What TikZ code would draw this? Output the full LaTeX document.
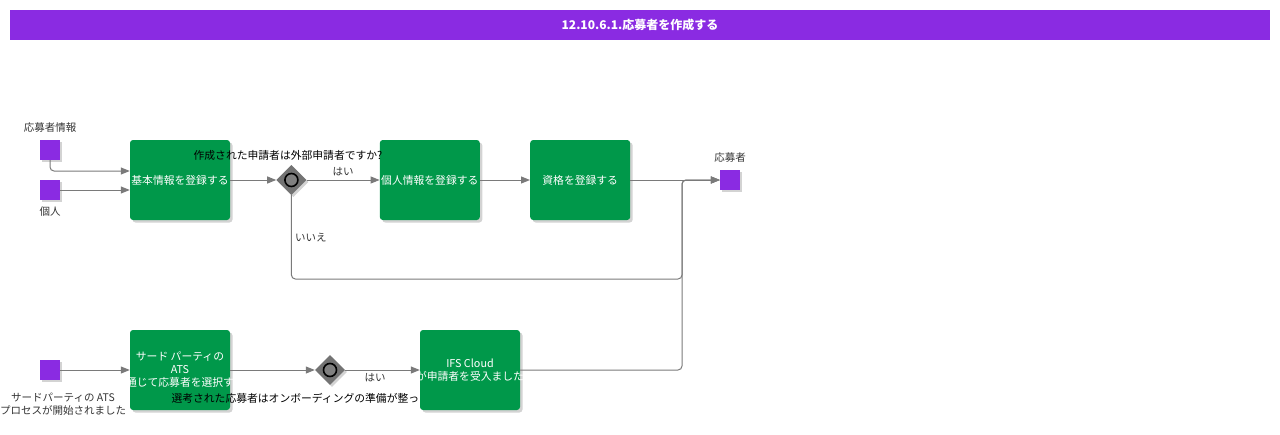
\documentclass[tikz,border=0pt]{standalone}
\usepackage{fontspec}
\setmainfont{Noto Sans CJK JP}
\usetikzlibrary{positioning, shapes.geometric, arrows.meta, shadows}

\definecolor{bpmnpurple}{HTML}{8A2BE2}
\definecolor{bpmngreen}{HTML}{00984A}
\definecolor{flowgray}{HTML}{7A7A7A}
\definecolor{labelgray}{HTML}{333333}

\tikzset{
  titlebar/.style={rectangle, fill=bpmnpurple, text=white,
    minimum width=1260pt, minimum height=30pt,
    font=\bfseries\fontsize{12}{14}\selectfont},
  task/.style={rectangle, rounded corners=3pt, fill=bpmngreen,
    minimum width=100pt, minimum height=80pt, inner sep=0pt,
    text=white, align=center,
    font=\fontsize{10.8}{13}\selectfont,
    drop shadow={shadow xshift=2.5pt, shadow yshift=-2.5pt, opacity=0.35}},
  event/.style={rectangle, fill=bpmnpurple, minimum size=20pt, inner sep=0pt,
    drop shadow={shadow xshift=2pt, shadow yshift=-2pt, opacity=0.35}},
  gate/.style={diamond, aspect=1, fill=gray!90!black, minimum size=30pt,
    inner sep=0pt,
    drop shadow={shadow xshift=2pt, shadow yshift=-2pt, opacity=0.35},
    path picture={\draw[line width=1.6pt, fill=gray]
      (path picture bounding box.center) circle[radius=6.5pt];}},
  evlabel/.style={font=\fontsize{10.5}{13}\selectfont, text=labelgray,
    inner sep=1pt},
  gatelabel/.style={font=\fontsize{10.8}{13}\selectfont, text=black},
  flowlabel/.style={font=\fontsize{10.5}{13}\selectfont, text=labelgray},
  flow/.style={draw=flowgray, line width=1pt, rounded corners=4pt,
    -{Triangle[length=9pt, width=7pt]}}
}

\begin{document}
\begin{tikzpicture}[x=1pt, y=-1pt]
  \useasboundingbox (0,0) rectangle (1280,434);
  \node[titlebar] (title) at (640,25) {12.10.6.1.応募者を作成する};

  % events
  \node[event] (info) at (50,150) {};
  \node[event] (person) at (50,190) {};
  \node[event] (atsstart) at (50,370) {};
  \node[event] (applicant) at (730,180) {};
  \node[evlabel, above=6pt of info] (infolbl) {応募者情報};
  \node[evlabel, below=5pt of person] (personlbl) {個人};
  \node[evlabel, above=6pt of applicant] (applicantlbl) {応募者};
  \node[evlabel, align=center] (atslbl) at (63,404)
    {サードパーティの ATS\\プロセスが開始されました};

  % tasks
  \node[task] (basic) at (180,180) {基本情報を登録する};
  \node[gate, right=46pt of basic] (extq) {};
  \node[task, right=73pt of extq] (personal) {個人情報を登録する};
  \node[task, right=50pt of personal] (qualif) {資格を登録する};
  \node[task] (select) at (180,370)
    {サード パーティの\\ATS\\\makebox[0pt]{通じて応募者を選択す}};
  \node[gate] (readyq) at (330,370) {};

  \node[gatelabel] (extqlbl) at (288,155) {作成された申請者は外部申請者ですか?};
  \node[gatelabel, anchor=west] (readylbl) at (168,398)
    {選考された応募者はオンボーディングの準備が整っ};

  \node[task] (ifs) at (470,370)
    {IFS Cloud\\\makebox[0pt]{が申請者を受入ました}};

  \coordinate (merge) at (682,180);
  \coordinate (loop) at (682,279);

  \draw[flow] (info.south) |- ([yshift=9pt]basic.west);
  \draw[flow] (person.east) -- (person.east -| basic.west);
  \draw[flow] (basic) -- (extq);
  \draw[flow] (extq) -- node[flowlabel, above] {はい} (personal);
  \draw[flow] (personal) -- (qualif);
  \draw[flow] (qualif) -- (applicant);
  \draw[flow] (extq.south) |- node[flowlabel, pos=0.25, right] {いいえ}
    (loop) -- (merge) -- (applicant);

  \draw[flow] (atsstart) -- (select);
  \draw[flow] (select) -- (readyq);
  \draw[flow] (readyq) -- node[flowlabel, below, pos=0.4] {はい} (ifs);
  \draw[flow] (ifs) -| (merge) -- (applicant);
\end{tikzpicture}
\end{document}
